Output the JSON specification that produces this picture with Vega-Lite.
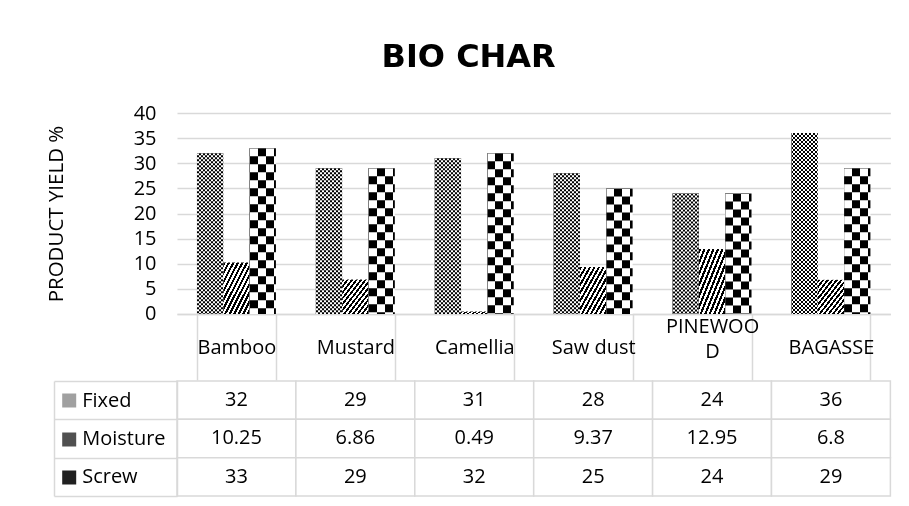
{
  "$schema": "https://vega.github.io/schema/vega-lite/v6.json",
  "padding": {"left": 46, "top": 41, "right": 5, "bottom": 5},
  "background": "white",
  "title": {"text": "BIO CHAR", "font": "DejaVu Sans", "fontSize": 32, "fontWeight": "bold", "color": "black", "anchor": "middle", "offset": 29},
  "config": {"view": {"stroke": null}, "font": "Open Sans"},
  "datasets": {
    "yields": [
      {"cat": "Bamboo", "series": "Fixed", "value": 32},
      {"cat": "Bamboo", "series": "Moisture", "value": 10.25},
      {"cat": "Bamboo", "series": "Screw", "value": 33},
      {"cat": "Mustard", "series": "Fixed", "value": 29},
      {"cat": "Mustard", "series": "Moisture", "value": 6.86},
      {"cat": "Mustard", "series": "Screw", "value": 29},
      {"cat": "Camellia", "series": "Fixed", "value": 31},
      {"cat": "Camellia", "series": "Moisture", "value": 0.49},
      {"cat": "Camellia", "series": "Screw", "value": 32},
      {"cat": "Saw dust", "series": "Fixed", "value": 28},
      {"cat": "Saw dust", "series": "Moisture", "value": 9.37},
      {"cat": "Saw dust", "series": "Screw", "value": 25},
      {"cat": "PINEWOOD", "series": "Fixed", "value": 24},
      {"cat": "PINEWOOD", "series": "Moisture", "value": 12.95},
      {"cat": "PINEWOOD", "series": "Screw", "value": 24},
      {"cat": "BAGASSE", "series": "Fixed", "value": 36},
      {"cat": "BAGASSE", "series": "Moisture", "value": 6.8},
      {"cat": "BAGASSE", "series": "Screw", "value": 29}
    ]
  },
  "spacing": -11,
  "vconcat": [
    {
      "width": 713.4,
      "height": 201,
      "data": {"name": "yields"},
      "encoding": {
        "x": {
          "field": "cat", "type": "nominal", "title": null,
          "sort": ["Bamboo", "Mustard", "Camellia", "Saw dust", "PINEWOOD", "BAGASSE"],
          "scale": {"paddingInner": 0.336, "paddingOuter": 0.168},
          "axis": {
            "orient": "bottom", "labelAngle": 0, "domain": true, "domainColor": "#d9d9d9", "domainWidth": 1.5,
            "ticks": true, "tickBand": "extent", "tickSize": 66, "tickColor": "#d9d9d9", "tickWidth": 1.5,
            "minExtent": 66, "maxExtent": 66,
            "labelFont": "Open Sans", "labelFontSize": 20, "labelColor": "black", "labelBaseline": "middle",
            "labelPadding": {"condition": {"test": "datum.value == 'PINEWOOD'", "value": -53}, "value": -32.5},
            "labelLineHeight": 25,
            "labelExpr": "datum.label == 'PINEWOOD' ? ['PINEWOO', 'D'] : datum.label"
          }
        },
        "xOffset": {"field": "series", "type": "nominal", "sort": ["Fixed", "Moisture", "Screw"], "scale": {"domain": ["Fixed", "Moisture", "Screw"]}},
        "y": {
          "field": "value", "type": "quantitative",
          "scale": {"domain": [0, 40]},
          "axis": {
            "values": [0, 5, 10, 15, 20, 25, 30, 35, 40],
            "domain": false, "ticks": false, "grid": true, "gridColor": "#d9d9d9", "gridWidth": 1.3,
            "labelFont": "Open Sans", "labelFontSize": 20, "labelColor": "black", "labelPadding": 21,
            "title": "PRODUCT YIELD %", "titleFont": "Open Sans", "titleFontSize": 20.5, "titleFontWeight": "normal",
            "titleColor": "black", "titlePadding": 67
          }
        }
      },
      "layer": [
        {
          "transform": [{"filter": "datum.series == 'Fixed'"}],
          "mark": {"type": "bar", "color": {"gradient": "linear", "x1": 0, "y1": 0, "x2": 1, "y2": 0, "stops": [
            {"offset": 0, "color": "black"}, {"offset": 0.076, "color": "black"},
            {"offset": 0.076, "color": "white"}, {"offset": 0.152, "color": "white"},
            {"offset": 0.152, "color": "black"}, {"offset": 0.228, "color": "black"},
            {"offset": 0.228, "color": "white"}, {"offset": 0.304, "color": "white"},
            {"offset": 0.304, "color": "black"}, {"offset": 0.38, "color": "black"},
            {"offset": 0.38, "color": "white"}, {"offset": 0.456, "color": "white"},
            {"offset": 0.456, "color": "black"}, {"offset": 0.532, "color": "black"},
            {"offset": 0.532, "color": "white"}, {"offset": 0.608, "color": "white"},
            {"offset": 0.608, "color": "black"}, {"offset": 0.684, "color": "black"},
            {"offset": 0.684, "color": "white"}, {"offset": 0.76, "color": "white"},
            {"offset": 0.76, "color": "black"}, {"offset": 0.836, "color": "black"},
            {"offset": 0.836, "color": "white"}, {"offset": 0.912, "color": "white"},
            {"offset": 0.912, "color": "black"}, {"offset": 0.988, "color": "black"},
            {"offset": 0.988, "color": "white"}, {"offset": 1, "color": "white"}
          ]}}
        },
        {
          "transform": [{"filter": "datum.series == 'Fixed'"}],
          "mark": {"type": "rule", "color": "white", "strokeWidth": 26.32, "strokeDash": [2, 2], "strokeCap": "butt", "blend": "difference"},
          "encoding": {"y2": {"datum": 0}}
        },
        {
          "transform": [{"filter": "datum.series == 'Moisture'"}],
          "mark": {"type": "bar", "color": {"gradient": "linear", "x1": 0, "y1": 0, "x2": 1, "y2": 1, "stops": [
            {"offset": 0, "color": "black"}, {"offset": 0.043, "color": "black"},
            {"offset": 0.043, "color": "white"}, {"offset": 0.086, "color": "white"},
            {"offset": 0.086, "color": "black"}, {"offset": 0.128, "color": "black"},
            {"offset": 0.128, "color": "white"}, {"offset": 0.171, "color": "white"},
            {"offset": 0.171, "color": "black"}, {"offset": 0.214, "color": "black"},
            {"offset": 0.214, "color": "white"}, {"offset": 0.257, "color": "white"},
            {"offset": 0.257, "color": "black"}, {"offset": 0.3, "color": "black"},
            {"offset": 0.3, "color": "white"}, {"offset": 0.342, "color": "white"},
            {"offset": 0.342, "color": "black"}, {"offset": 0.385, "color": "black"},
            {"offset": 0.385, "color": "white"}, {"offset": 0.428, "color": "white"},
            {"offset": 0.428, "color": "black"}, {"offset": 0.471, "color": "black"},
            {"offset": 0.471, "color": "white"}, {"offset": 0.514, "color": "white"},
            {"offset": 0.514, "color": "black"}, {"offset": 0.556, "color": "black"},
            {"offset": 0.556, "color": "white"}, {"offset": 0.599, "color": "white"},
            {"offset": 0.599, "color": "black"}, {"offset": 0.642, "color": "black"},
            {"offset": 0.642, "color": "white"}, {"offset": 0.685, "color": "white"},
            {"offset": 0.685, "color": "black"}, {"offset": 0.728, "color": "black"},
            {"offset": 0.728, "color": "white"}, {"offset": 0.77, "color": "white"},
            {"offset": 0.77, "color": "black"}, {"offset": 0.813, "color": "black"},
            {"offset": 0.813, "color": "white"}, {"offset": 0.856, "color": "white"},
            {"offset": 0.856, "color": "black"}, {"offset": 0.899, "color": "black"},
            {"offset": 0.899, "color": "white"}, {"offset": 0.942, "color": "white"},
            {"offset": 0.942, "color": "black"}, {"offset": 0.984, "color": "black"},
            {"offset": 0.984, "color": "white"}, {"offset": 1, "color": "white"}
          ]}}
        },
        {
          "transform": [{"filter": "datum.series == 'Screw'"}],
          "mark": {"type": "bar", "color": {"gradient": "linear", "x1": 0, "y1": 0, "x2": 1, "y2": 0, "stops": [
            {"offset": 0, "color": "black"}, {"offset": 0.304, "color": "black"},
            {"offset": 0.304, "color": "white"}, {"offset": 0.608, "color": "white"},
            {"offset": 0.608, "color": "black"}, {"offset": 0.912, "color": "black"},
            {"offset": 0.912, "color": "white"}, {"offset": 1, "color": "white"}
          ]}}
        },
        {
          "transform": [{"filter": "datum.series == 'Screw'"}],
          "mark": {"type": "rule", "color": "white", "strokeWidth": 26.32, "strokeDash": [8, 8], "strokeCap": "butt", "blend": "difference"},
          "encoding": {"y2": {"datum": 0}}
        }
      ]
    },
    {
      "width": 713.4,
      "height": 115,
      "data": {"name": "yields"},
      "encoding": {
        "x": {"field": "cat", "type": "nominal", "sort": ["Bamboo", "Mustard", "Camellia", "Saw dust", "PINEWOOD", "BAGASSE"], "scale": {"paddingInner": 0, "paddingOuter": 0}, "axis": null}
      },
      "layer": [
        {
          "mark": {"type": "rect", "fill": "white", "stroke": "#d9d9d9", "strokeWidth": 1.5},
          "encoding": {
            "y": {"field": "series", "type": "nominal", "sort": ["Fixed", "Moisture", "Screw"], "scale": {"paddingInner": 0, "paddingOuter": 0},
              "axis": {"orient": "left", "title": null, "domain": true, "domainColor": "#d9d9d9", "domainWidth": 1.5,
                "ticks": true, "tickBand": "extent", "tickSize": 123, "tickColor": "#d9d9d9", "tickWidth": 1.5,
                "labelAlign": "left", "labelBaseline": "middle", "labelPadding": -27.7, "labelFont": "Open Sans", "labelFontSize": 20, "labelColor": "black"}}
          }
        },
        {
          "mark": {"type": "text", "font": "Open Sans", "fontSize": 20, "color": "black", "baseline": "middle", "align": "center"},
          "encoding": {
            "y": {"field": "series", "type": "nominal", "sort": ["Fixed", "Moisture", "Screw"], "scale": {"paddingInner": 0, "paddingOuter": 0}, "axis": null},
            "text": {"field": "value", "type": "nominal"}
          }
        },
        {
          "mark": {"type": "text", "text": ""},
          "encoding": {
            "y": {"field": "series", "type": "nominal", "sort": ["Fixed", "Moisture", "Screw"], "scale": {"paddingInner": 0, "paddingOuter": 0},
              "axis": {"orient": "left", "title": null, "offset": 101.3, "domain": false, "labels": false, "grid": false,
                "ticks": true, "tickSize": 14, "tickWidth": 14,
                "tickColor": {"condition": [{"test": "datum.value === 'Fixed'", "value": "#a0a0a0"}, {"test": "datum.value === 'Moisture'", "value": "#505050"}], "value": "#202020"}}}
          }
        },
        {
          "mark": {"type": "text", "text": ""},
          "encoding": {
            "y": {"field": "series", "type": "nominal", "sort": ["Fixed", "Moisture", "Screw"], "scale": {"paddingInner": 0, "paddingOuter": 0},
              "axis": {"orient": "left", "title": null, "offset": 123, "domain": true, "domainColor": "#d9d9d9", "domainWidth": 1.5,
                "labels": false, "ticks": false, "grid": false}}
          }
        }
      ],
      "resolve": {"scale": {"y": "independent"}, "axis": {"y": "independent"}}
    }
  ]
}
